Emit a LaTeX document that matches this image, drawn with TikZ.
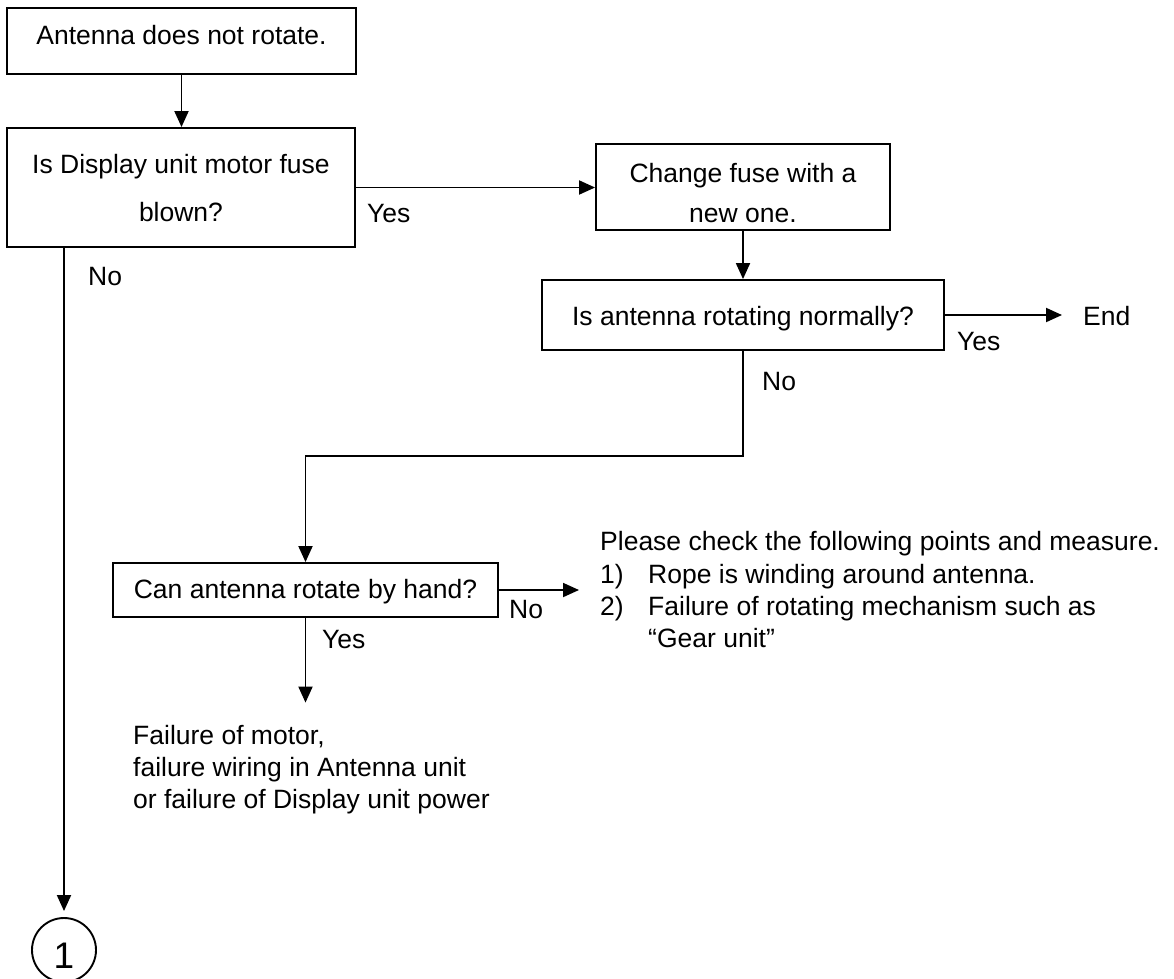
\documentclass[tikz,border=0pt]{standalone}
\usepackage{fontspec}
\setmainfont{Liberation Sans}
\usetikzlibrary{arrows.meta}
\begin{document}
\begin{tikzpicture}[x=1pt,y=-1pt,
  box/.style={draw, rectangle, line width=1.9pt, inner sep=0pt},
  txt/.style={anchor=base, inner sep=0pt, font=\fontsize{26.5pt}{32pt}\selectfont},
  ltxt/.style={anchor=base west, inner sep=0pt, font=\fontsize{26.5pt}{32pt}\selectfont},
  link/.style={line width=1.9pt},
  arr/.style={link, -{Triangle[length=16pt,width=14pt]}}]
\useasboundingbox (0,0) rectangle (1174,978);

% process and decision boxes
\node[box, minimum width=349pt, minimum height=66pt]  (b1)   at (181.5,41)  {};
\node[box, minimum width=348pt, minimum height=119pt] (b2)   at (181,187.5) {};
\node[box, minimum width=294pt, minimum height=86pt]  (fuse) at (743,187)   {};
\node[box, minimum width=402pt, minimum height=70pt]  (b3)   at (743,315)   {};
\node[box, minimum width=385pt, minimum height=54pt]  (b4)   at (305.5,590) {};
\node[draw, circle, line width=1.9pt, minimum size=64pt, inner sep=0pt] (c1) at (64,950) {};

% box texts
\node[txt] (b1t)  at (181.5,44) {Antenna does not rotate.};
\node[txt] (b2ta) at (181,173)  {Is Display unit motor fuse};
\node[txt] (b2tb) at (181,221)  {blown?};
\node[txt] (fta)  at (743,182)  {Change fuse with a};
\node[txt] (ftb)  at (743,222)  {new one.};
\node[txt] (b3t)  at (743,325)  {Is antenna rotating normally?};
\node[txt] (b4t)  at (305.5,598) {Can antenna rotate by hand?};
\node[anchor=base, inner sep=0pt, font=\fontsize{37pt}{40pt}\selectfont] (c1t) at (64,968) {1};

% end and result texts
\node[ltxt] (endn)  at (1083,325) {End};
\node[ltxt] (chk0)  at (600,550)  {Please check the following points and measure.};
\node[ltxt] (chk1n) at (600,583)  {1)};
\node[ltxt] (chk1)  at (648,583)  {Rope is winding around antenna.};
\node[ltxt] (chk2n) at (600,615)  {2)};
\node[ltxt] (chk2)  at (648,615)  {Failure of rotating mechanism such as};
\node[ltxt] (chk3)  at (648,647)  {“Gear unit”};
\node[ltxt] (fail1) at (133,744)  {Failure of motor,};
\node[ltxt] (fail2) at (133,776)  {failure wiring in Antenna unit};
\node[ltxt] (fail3) at (133,808)  {or failure of Display unit power};

% branch labels
\node[ltxt] (y1) at (367,222) {Yes};
\node[ltxt] (n1) at (88,285)  {No};
\node[ltxt] (y2) at (957,350) {Yes};
\node[ltxt] (n2) at (762,390) {No};
\node[ltxt] (n3) at (509,618) {No};
\node[ltxt] (y3) at (322,648) {Yes};

% connectors
\draw[arr] (b1.south) -- (b1.south |- b2.north);
\draw[arr] (b2.east) -- (b2.east -| fuse.west);
\draw[arr] (fuse.south) -- (b3.north);
\draw[arr, shorten >=21pt] (b3.east) -- (b3.east -| endn.west);
\draw[arr] (b3.south) -- (743,456) -| (b4.north);
\draw[arr, shorten >=21pt] (b4.east) -- (b4.east -| chk1n.west);
\draw[arr, shorten >=22pt] (b4.south) -- (b4.south |- fail1.north);
\draw[arr, shorten >=6pt] (c1.north |- b2.south) -- (c1.north);
\end{tikzpicture}
\end{document}
